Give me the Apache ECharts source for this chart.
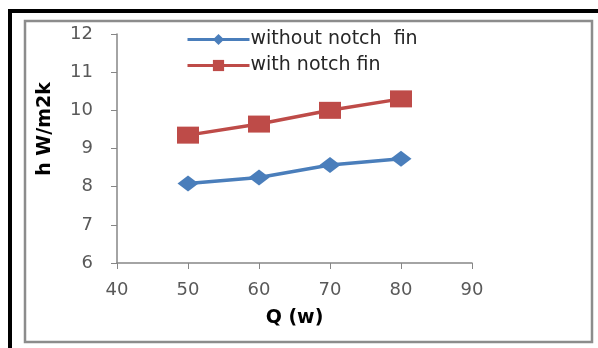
<!DOCTYPE html>
<html>
<head>
<meta charset="utf-8">
<script src="https://cdn.jsdelivr.net/npm/echarts@6/dist/echarts.min.js"></script>
<style>html,body{margin:0;padding:0;background:#fff;}#c{width:598px;height:348px;}</style>
</head>
<body>
<div id="c"></div>
<script>
const categoriesQ = [50, 60, 70, 80];
const withoutNotch = [8.08, 8.24, 8.57, 8.73];
const withNotch = [9.35, 9.64, 10.0, 10.3];
const seriesNames = ['without notch  fin', 'with notch fin'];
const xTitle = 'Q (w)';
const yTitle = 'h W/m2k';

const chart = echarts.init(document.getElementById('c'));
const font = 'DejaVu Sans';
chart.setOption({
  animation: false,
  backgroundColor: '#fff',
  graphic: [
    { type: 'rect', shape: { x: 25, y: 21, width: 567, height: 321 }, style: { fill: 'none', stroke: '#8c8c8c', lineWidth: 2.5 } },
    { type: 'rect', shape: { x: 8, y: 9, width: 600, height: 4 }, style: { fill: '#000' } },
    { type: 'rect', shape: { x: 8, y: 9, width: 4, height: 345 }, style: { fill: '#000' } },
    { type: 'text', x: 45, y: 129, rotation: Math.PI / 2,
      style: { text: yTitle, fontFamily: font, fontSize: 19, fontWeight: 'bold', fill: '#000', align: 'center', verticalAlign: 'middle' } }
  ],
  grid: { left: 117, right: 126, top: 34, bottom: 85 },
  legend: {
    orient: 'vertical', left: 181, top: 25, itemGap: 7,
    itemWidth: 62, itemHeight: 14,
    lineStyle: { width: 3 },
    textStyle: { fontFamily: font, fontSize: 19, color: '#262626', padding: [0, 0, 0, -4] },
    data: seriesNames
  },
  xAxis: {
    type: 'value', min: 40, max: 90, interval: 10,
    name: xTitle, nameLocation: 'middle', nameGap: 46,
    nameTextStyle: { fontFamily: font, fontSize: 19, fontWeight: 'bold', color: '#000' },
    axisLine: { lineStyle: { color: '#868686', width: 1.5 } },
    axisTick: { show: true, length: 6, lineStyle: { color: '#868686' } },
    axisLabel: { margin: 18, fontFamily: font, fontSize: 18, color: '#595959' },
    splitLine: { show: false }
  },
  yAxis: {
    type: 'value', min: 6, max: 12, interval: 1,
    axisLine: { show: true, lineStyle: { color: '#868686', width: 1.5 } },
    axisTick: { show: true, length: 6, lineStyle: { color: '#868686' } },
    axisLabel: { margin: 24, fontFamily: font, fontSize: 18, color: '#595959' },
    splitLine: { show: false }
  },
  series: [
    {
      name: seriesNames[0], type: 'line',
      data: categoriesQ.map((q, i) => [q, withoutNotch[i]]),
      symbol: 'diamond', symbolSize: [21, 16],
      lineStyle: { color: '#4A7EBB', width: 3.5 },
      itemStyle: { color: '#4A7EBB' }
    },
    {
      name: seriesNames[1], type: 'line',
      data: categoriesQ.map((q, i) => [q, withNotch[i]]),
      symbol: 'rect', symbolSize: [22, 17],
      lineStyle: { color: '#BE4B48', width: 3.5 },
      itemStyle: { color: '#BE4B48' }
    }
  ]
});
</script>
</body>
</html>
